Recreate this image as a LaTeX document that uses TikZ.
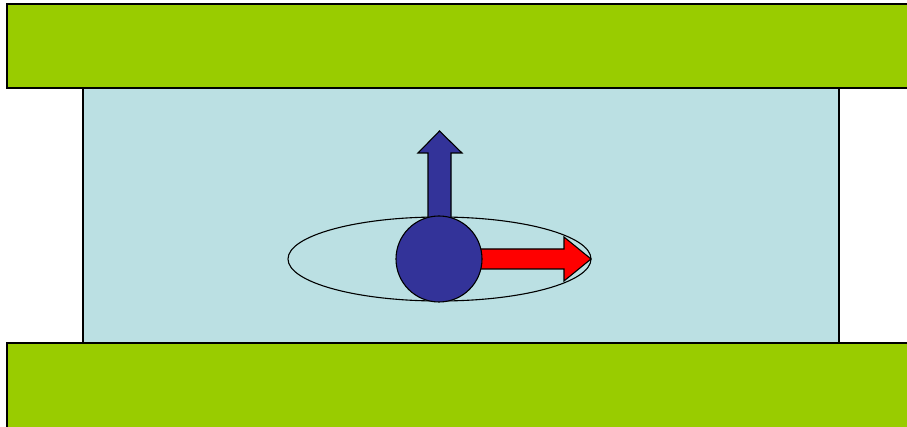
\documentclass[tikz,border=0pt]{standalone}
\usetikzlibrary{shapes.geometric}
\definecolor{plategreen}{HTML}{99CC00}
\definecolor{cellblue}{HTML}{BBE0E3}
\definecolor{spinblue}{HTML}{333399}
\definecolor{arrowred}{HTML}{FF0000}
\tikzset{outline/.style={draw=black,line width=1.3pt,line join=miter}}
\begin{document}
\begin{tikzpicture}[x=1pt,y=-1pt]
\useasboundingbox (0,0) rectangle (907,427);
\fill[white] (0,0) rectangle (907,427);
% medium
\draw[outline,fill=cellblue] (83,80) rectangle (839,350);
% plates
\draw[outline,fill=plategreen] (7,4) rectangle (920,88);
\draw[outline,fill=plategreen] (7,343) rectangle (920,440);
% orbit ellipse
\draw[black,line width=1.1pt] (439.5,259) ellipse [x radius=151.5, y radius=42];
% up arrow
\draw[outline,line width=1.1pt,fill=spinblue] (428,230) -- (428,153) -- (418,153) -- (439.5,131) -- (462,153) -- (451,153) -- (451,230) -- cycle;
% right arrow
\draw[outline,line width=1.1pt,fill=arrowred] (470,249) -- (564,249) -- (564,237) -- (591,259) -- (564,281) -- (564,269) -- (470,269) -- cycle;
% particle
\draw[outline,line width=1.1pt,fill=spinblue] (439,259) circle [radius=43];
\end{tikzpicture}
\end{document}
